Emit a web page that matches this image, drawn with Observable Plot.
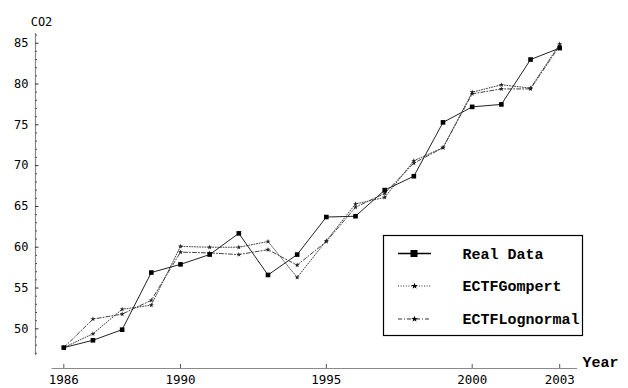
<!DOCTYPE html>
<html>
<head>
<meta charset="utf-8">
<script src="https://cdn.jsdelivr.net/npm/d3@7"></script>
<script src="https://cdn.jsdelivr.net/npm/@observablehq/plot@0.6"></script>
<style>
  html, body { margin: 0; padding: 0; background: #fff; }
  #chart svg { display: block; }
</style>
</head>
<body>
<div id="chart"></div>
<script>
// ---- data ----
const years = [1986, 1987, 1988, 1989, 1990, 1991, 1992, 1993, 1994, 1995, 1996, 1997, 1998, 1999, 2000, 2001, 2002, 2003];
const realData = [47.7, 48.6, 49.9, 56.9, 57.9, 59.1, 61.7, 56.6, 59.1, 63.7, 63.8, 67.0, 68.7, 75.3, 77.2, 77.5, 83.0, 84.4];
const ectfGompert = [47.7, 49.4, 52.4, 52.9, 60.1, 60.0, 60.0, 60.7, 56.3, 60.8, 65.3, 66.1, 70.6, 72.2, 79.0, 79.9, 79.5, 84.9];
const ectfLognormal = [47.7, 51.2, 51.8, 53.5, 59.4, 59.3, 59.1, 59.7, 57.8, 60.7, 64.9, 66.6, 70.3, 72.2, 78.8, 79.4, 79.4, 84.7];
const seriesNames = ["Real Data", "ECTFGompert", "ECTFLognormal"];
const xTicks = [1986, 1990, 1995, 2000, 2003];
const yTicks = [50, 55, 60, 65, 70, 75, 80, 85];
const yMinorTicks = [47, 48, 49, 51, 52, 53, 54, 56, 57, 58, 59, 61, 62, 63, 64, 66, 67, 68, 69, 71, 72, 73, 74, 76, 77, 78, 79, 81, 82, 83, 84, 86];
const xLabel = "Year";
const yLabel = "CO2";

// ---- layout ----
const W = 628, H = 388;
const mL = 35, mR = 51, mT = 33, mB = 20;
const xDomain = [1985.03, 2003.61];
const yDomain = [45.14, 86.19];
const pxPerX = (W - mL - mR) / (xDomain[1] - xDomain[0]);
const pxPerY = (H - mT - mB) / (yDomain[1] - yDomain[0]);
const xAxisStart = 1985.6;
const yAxisStart = 46.7;

const rows = years.map((year, i) => ({year, real: realData[i], gompert: ectfGompert[i], lognormal: ectfLognormal[i]}));

const axisColor = "#8a8a8a";
const monoFont = "'DejaVu Sans Mono', monospace";
const legendFont = "'Liberation Mono', monospace";

const chart = Plot.plot({
  width: W,
  height: H,
  marginLeft: mL,
  marginRight: mR,
  marginTop: mT,
  marginBottom: mB,
  x: {domain: xDomain},
  y: {domain: yDomain},
  style: {fontFamily: monoFont, fontSize: "12px", color: "#000", background: "#fff", overflow: "visible"},
  marks: [
    // axes lines
    Plot.ruleX([xDomain[0]], {y1: yAxisStart, y2: yDomain[1], stroke: axisColor, strokeWidth: 1.2}),
    Plot.ruleY([yDomain[0]], {x1: xAxisStart, x2: xDomain[1], stroke: axisColor, strokeWidth: 1.2}),
    // y ticks (inward)
    Plot.ruleY(yTicks, {y: d => d, x1: xDomain[0], x2: xDomain[0] + 3.5 / pxPerX, stroke: "#333"}),
    Plot.ruleY(yMinorTicks, {y: d => d, x1: xDomain[0], x2: xDomain[0] + 2 / pxPerX, stroke: "#555"}),
    // x ticks (upward)
    Plot.ruleX(xTicks, {x: d => d, y1: yDomain[0], y2: yDomain[0] + 4 / pxPerY, stroke: "#555"}),
    // tick labels
    Plot.axisY({ticks: yTicks, tickSize: 0, tickPadding: 7, label: null, tickFormat: d => String(d), fill: "#000", fontSize: 12, style: {letterSpacing: "1.2px"}}),
    Plot.axisX({ticks: xTicks, tickSize: 0, tickPadding: 7, label: null, tickFormat: d => String(d), fill: "#000", fontSize: 12.5, style: {letterSpacing: "1.6px"}}),
    // axis labels
    Plot.text([yLabel], {frameAnchor: "top-left", dx: 6, dy: -16, textAnchor: "middle", fontSize: 12, fill: "#000", style: {letterSpacing: "1.3px"}}),
    Plot.text([xLabel], {frameAnchor: "bottom-right", dx: 5, dy: -2, textAnchor: "start", fontSize: 15, fontWeight: "bold", fontFamily: legendFont, fill: "#000"}),
    // series
    Plot.lineY(rows, {x: "year", y: "gompert", stroke: "#444", strokeWidth: 1, strokeDasharray: "1,1.6"}),
    Plot.lineY(rows, {x: "year", y: "lognormal", stroke: "#444", strokeWidth: 1, strokeDasharray: "4,2,1,2"}),
    Plot.lineY(rows, {x: "year", y: "real", stroke: "#222", strokeWidth: 1}),
    Plot.dot(rows, {x: "year", y: "gompert", symbol: "star", r: 1.6, fill: "#222", stroke: "none"}),
    Plot.dot(rows, {x: "year", y: "lognormal", symbol: "star", r: 1.6, fill: "#222", stroke: "none"}),
    Plot.dot(rows, {x: "year", y: "real", symbol: "square", r: 2.6, fill: "#000", stroke: "none"})
  ]
});

document.getElementById("chart").appendChild(chart);

// ---- legend (inside plot area, lower right) ----
const svg = d3.select(chart);
const lg = svg.append("g").attr("class", "legend");
const box = {x: 383.5, y: 235.5, w: 199, h: 100};
lg.append("rect").attr("x", box.x).attr("y", box.y).attr("width", box.w).attr("height", box.h)
  .attr("fill", "#fff").attr("stroke", "#000").attr("stroke-width", 1.2);
const rowY = [253.5, 286, 319];
const dashes = [null, "1,1.6", "4,2,1,2"];
seriesNames.forEach((name, i) => {
  const y = rowY[i];
  const line = lg.append("line").attr("x1", 398).attr("x2", 431).attr("y1", y).attr("y2", y)
    .attr("stroke", i === 0 ? "#000" : "#333").attr("stroke-width", i === 0 ? 1.3 : 1);
  if (dashes[i]) line.attr("stroke-dasharray", dashes[i]);
  if (i === 0) {
    lg.append("rect").attr("x", 410.5).attr("y", y - 3.5).attr("width", 7).attr("height", 7).attr("fill", "#000");
  } else {
    lg.append("path").attr("d", d3.symbol(d3.symbolStar, 14)()).attr("transform", `translate(414.5,${y})`).attr("fill", "#000");
  }
  lg.append("text").attr("x", 462.5).attr("y", y).attr("dy", "0.35em")
    .attr("text-anchor", "start")
    .style("font-family", legendFont).style("font-size", "15px").style("font-weight", "bold")
    .attr("fill", "#000").text(name);
});
</script>
</body>
</html>
